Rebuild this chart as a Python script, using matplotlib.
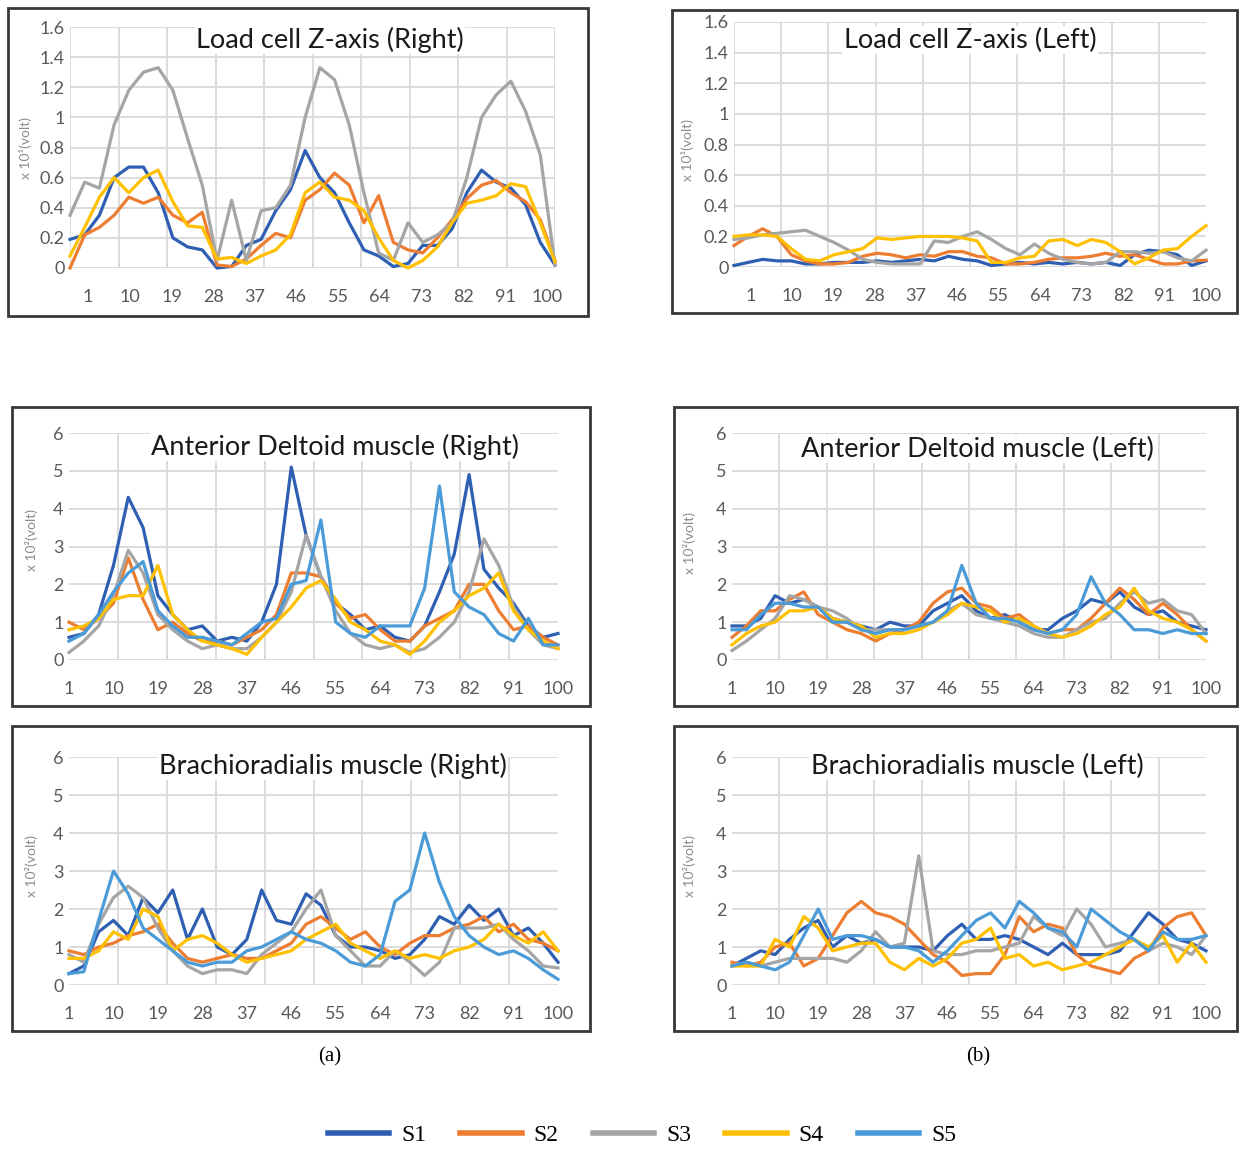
import matplotlib
matplotlib.use('Agg')
import matplotlib.pyplot as plt
import numpy as np
from matplotlib.patches import Rectangle
from matplotlib.lines import Line2D

# sample positions (every 3rd of the 100 normalised points)
x = list(range(1, 101, 3))

# Load cell Z-axis (Right)
lcr_s1 = [0.19, 0.22, 0.35, 0.6, 0.67, 0.67, 0.5, 0.2, 0.14, 0.12, 0.0, 0.01, 0.15, 0.19, 0.38, 0.52, 0.78,
          0.6, 0.5, 0.3, 0.12, 0.08, 0.01, 0.03, 0.15, 0.15, 0.26, 0.5, 0.65, 0.57, 0.53, 0.42, 0.17, 0.02]
lcr_s2 = [0.0, 0.22, 0.27, 0.35, 0.47, 0.43, 0.47, 0.35, 0.3, 0.37, 0.02, 0.01, 0.06, 0.15, 0.23, 0.2, 0.45,
          0.52, 0.63, 0.55, 0.3, 0.48, 0.17, 0.12, 0.1, 0.2, 0.32, 0.46, 0.55, 0.58, 0.5, 0.44, 0.32, 0.05]
lcr_s3 = [0.35, 0.57, 0.53, 0.95, 1.18, 1.3, 1.33, 1.18, 0.86, 0.55, 0.05, 0.45, 0.05, 0.38, 0.4, 0.55, 1.0,
          1.33, 1.25, 0.95, 0.5, 0.1, 0.05, 0.3, 0.17, 0.22, 0.3, 0.6, 1.0, 1.15, 1.24, 1.04, 0.75, 0.02]
lcr_s4 = [0.08, 0.27, 0.47, 0.6, 0.5, 0.6, 0.65, 0.44, 0.28, 0.27, 0.06, 0.07, 0.03, 0.08, 0.12, 0.22, 0.5,
          0.57, 0.47, 0.45, 0.38, 0.2, 0.05, 0.0, 0.05, 0.14, 0.3, 0.43, 0.45, 0.48, 0.56, 0.54, 0.3, 0.04]

# Load cell Z-axis (Left)
lcl_s1 = [0.01, 0.03, 0.05, 0.04, 0.04, 0.02, 0.02, 0.03, 0.03, 0.03, 0.04, 0.03, 0.04, 0.05, 0.04, 0.07, 0.05,
          0.04, 0.01, 0.02, 0.03, 0.02, 0.03, 0.02, 0.03, 0.02, 0.03, 0.01, 0.08, 0.11, 0.1, 0.08, 0.01, 0.04]
lcl_s2 = [0.14, 0.2, 0.25, 0.2, 0.08, 0.04, 0.02, 0.02, 0.03, 0.07, 0.09, 0.08, 0.06, 0.08, 0.07, 0.1, 0.1,
          0.07, 0.06, 0.02, 0.02, 0.03, 0.05, 0.06, 0.06, 0.07, 0.09, 0.07, 0.08, 0.05, 0.02, 0.02, 0.04, 0.045]
lcl_s3 = [0.18, 0.19, 0.21, 0.22, 0.23, 0.24, 0.2, 0.16, 0.11, 0.05, 0.03, 0.02, 0.02, 0.02, 0.17, 0.16, 0.2,
          0.23, 0.18, 0.12, 0.08, 0.15, 0.09, 0.05, 0.03, 0.02, 0.03, 0.1, 0.1, 0.09, 0.1, 0.06, 0.04, 0.11]
lcl_s4 = [0.2, 0.21, 0.21, 0.2, 0.12, 0.05, 0.04, 0.08, 0.1, 0.12, 0.19, 0.18, 0.19, 0.2, 0.2, 0.2, 0.19,
          0.17, 0.03, 0.03, 0.06, 0.07, 0.17, 0.18, 0.14, 0.18, 0.16, 0.1, 0.02, 0.06, 0.11, 0.12, 0.2, 0.27]

# Anterior Deltoid muscle (Right)
adr_s1 = [0.6, 0.7, 1.2, 2.5, 4.3, 3.5, 1.7, 1.2, 0.8, 0.9, 0.5, 0.6, 0.5, 1.0, 2.0, 5.1, 3.3,
          2.2, 1.5, 1.2, 0.8, 0.9, 0.6, 0.5, 0.9, 1.8, 2.8, 4.9, 2.4, 1.9, 1.5, 0.9, 0.6, 0.7]
adr_s2 = [1.0, 0.8, 1.1, 1.5, 2.7, 1.6, 0.8, 1.0, 0.7, 0.5, 0.5, 0.4, 0.6, 0.8, 1.2, 2.3, 2.3,
          2.2, 1.5, 1.1, 1.2, 0.8, 0.5, 0.5, 0.9, 1.1, 1.3, 2.0, 2.0, 1.3, 0.8, 0.9, 0.6, 0.4]
adr_s3 = [0.2, 0.5, 0.9, 1.7, 2.9, 2.3, 1.2, 0.8, 0.5, 0.3, 0.4, 0.3, 0.3, 0.6, 1.0, 1.8, 3.3,
          2.2, 1.3, 0.7, 0.4, 0.3, 0.4, 0.2, 0.3, 0.6, 1.0, 1.8, 3.2, 2.5, 1.4, 0.8, 0.4, 0.3]
adr_s4 = [0.8, 0.9, 1.1, 1.6, 1.7, 1.7, 2.5, 1.2, 0.8, 0.5, 0.4, 0.3, 0.15, 0.6, 1.0, 1.4, 1.9,
          2.1, 1.6, 1.0, 0.8, 0.5, 0.4, 0.15, 0.5, 1.0, 1.3, 1.7, 1.9, 2.3, 1.3, 0.8, 0.5, 0.3]
adr_s5 = [0.5, 0.7, 1.2, 1.8, 2.3, 2.6, 1.3, 0.9, 0.6, 0.6, 0.5, 0.4, 0.7, 1.0, 1.1, 2.0, 2.1,
          3.7, 1.0, 0.7, 0.6, 0.9, 0.9, 0.9, 1.9, 4.6, 1.8, 1.4, 1.2, 0.7, 0.5, 1.1, 0.4, 0.4]

# Anterior Deltoid muscle (Left)
adl_s1 = [0.9, 0.9, 1.1, 1.7, 1.5, 1.6, 1.4, 1.1, 1.0, 0.9, 0.8, 1.0, 0.9, 0.9, 1.3, 1.5, 1.7,
          1.3, 1.1, 1.2, 1.0, 0.8, 0.8, 1.1, 1.3, 1.6, 1.5, 1.8, 1.4, 1.2, 1.3, 1.0, 0.9, 0.8]
adl_s2 = [0.6, 0.9, 1.3, 1.3, 1.6, 1.8, 1.2, 1.0, 0.8, 0.7, 0.5, 0.7, 0.8, 1.0, 1.5, 1.8, 1.9,
          1.5, 1.4, 1.1, 1.2, 0.9, 0.7, 0.8, 0.8, 1.1, 1.5, 1.9, 1.6, 1.2, 1.5, 1.2, 0.8, 0.5]
adl_s3 = [0.25, 0.5, 0.8, 1.1, 1.7, 1.6, 1.4, 1.3, 1.1, 0.8, 0.8, 0.8, 0.8, 0.9, 1.0, 1.3, 1.5,
          1.2, 1.1, 1.0, 0.9, 0.7, 0.6, 0.6, 0.8, 1.0, 1.1, 1.5, 1.8, 1.5, 1.6, 1.3, 1.2, 0.7]
adl_s4 = [0.4, 0.7, 0.9, 1.0, 1.3, 1.3, 1.4, 1.1, 1.0, 0.9, 0.6, 0.7, 0.7, 0.8, 1.0, 1.2, 1.5,
          1.4, 1.3, 1.0, 1.1, 0.9, 0.7, 0.6, 0.7, 0.9, 1.2, 1.4, 1.9, 1.3, 1.1, 1.0, 0.8, 0.5]
adl_s5 = [0.8, 0.8, 1.2, 1.5, 1.5, 1.4, 1.4, 1.0, 1.0, 0.8, 0.7, 0.8, 0.8, 0.9, 1.0, 1.3, 2.5,
          1.5, 1.1, 1.1, 1.0, 0.8, 0.7, 0.8, 1.2, 2.2, 1.5, 1.2, 0.8, 0.8, 0.7, 0.8, 0.7, 0.7]

# Brachioradialis muscle (Right)
brr_s1 = [0.3, 0.5, 1.4, 1.7, 1.3, 2.3, 1.9, 2.5, 1.2, 2.0, 1.0, 0.8, 1.2, 2.5, 1.7, 1.6, 2.4,
          2.1, 1.3, 1.0, 1.0, 0.9, 0.7, 0.8, 1.2, 1.8, 1.6, 2.1, 1.7, 2.0, 1.3, 1.5, 1.1, 0.6]
brr_s2 = [0.9, 0.8, 1.0, 1.1, 1.3, 1.4, 1.6, 1.1, 0.7, 0.6, 0.7, 0.8, 0.7, 0.7, 0.9, 1.1, 1.6,
          1.8, 1.5, 1.2, 1.4, 1.0, 0.8, 1.1, 1.3, 1.3, 1.5, 1.6, 1.8, 1.4, 1.6, 1.2, 1.1, 0.9]
brr_s3 = [0.8, 0.6, 1.6, 2.3, 2.6, 2.3, 1.5, 0.9, 0.5, 0.3, 0.4, 0.4, 0.3, 0.8, 1.1, 1.4, 2.0,
          2.5, 1.3, 0.9, 0.5, 0.5, 0.9, 0.6, 0.25, 0.6, 1.5, 1.5, 1.5, 1.6, 1.2, 0.9, 0.5, 0.45]
brr_s4 = [0.7, 0.7, 0.9, 1.4, 1.2, 2.0, 1.8, 0.9, 1.2, 1.3, 1.1, 0.8, 0.6, 0.7, 0.8, 0.9, 1.2,
          1.4, 1.6, 1.1, 0.9, 0.7, 0.9, 0.7, 0.8, 0.7, 0.9, 1.0, 1.2, 1.6, 1.3, 1.1, 1.4, 0.9]
brr_s5 = [0.3, 0.35, 1.7, 3.0, 2.4, 1.5, 1.2, 0.9, 0.6, 0.5, 0.6, 0.6, 0.9, 1.0, 1.2, 1.4, 1.2,
          1.1, 0.9, 0.6, 0.5, 0.8, 2.2, 2.5, 4.0, 2.7, 1.8, 1.3, 1.0, 0.8, 0.9, 0.7, 0.4, 0.15]

# Brachioradialis muscle (Left)
brl_s1 = [0.5, 0.7, 0.9, 0.8, 1.2, 1.5, 1.7, 1.0, 1.3, 1.1, 1.2, 1.0, 1.0, 1.0, 0.9, 1.3, 1.6,
          1.2, 1.2, 1.3, 1.2, 1.0, 0.8, 1.1, 0.8, 0.8, 0.8, 0.9, 1.4, 1.9, 1.6, 1.2, 1.1, 0.9]
brl_s2 = [0.6, 0.5, 0.6, 1.0, 1.1, 0.5, 0.7, 1.3, 1.9, 2.2, 1.9, 1.8, 1.6, 1.2, 0.8, 0.6, 0.25,
          0.3, 0.3, 0.8, 1.8, 1.4, 1.6, 1.5, 0.8, 0.5, 0.4, 0.3, 0.7, 0.9, 1.5, 1.8, 1.9, 1.3]
brl_s3 = [0.5, 0.6, 0.5, 0.6, 0.7, 0.7, 0.7, 0.7, 0.6, 0.9, 1.4, 1.0, 1.1, 3.4, 0.9, 0.8, 0.8,
          0.9, 0.9, 1.0, 1.1, 1.8, 1.5, 1.3, 2.0, 1.6, 1.0, 1.1, 1.2, 0.9, 1.1, 1.0, 0.8, 1.3]
brl_s4 = [0.5, 0.5, 0.5, 1.2, 1.0, 1.8, 1.5, 0.9, 1.0, 1.1, 1.1, 0.6, 0.4, 0.7, 0.5, 0.7, 1.1,
          1.2, 1.5, 0.7, 0.8, 0.5, 0.6, 0.4, 0.5, 0.6, 0.8, 1.0, 1.2, 1.0, 1.3, 0.6, 1.1, 0.6]
brl_s5 = [0.5, 0.6, 0.5, 0.4, 0.6, 1.3, 2.0, 1.2, 1.3, 1.3, 1.2, 1.0, 1.0, 0.9, 0.6, 0.9, 1.3,
          1.7, 1.9, 1.5, 2.2, 1.9, 1.5, 1.4, 1.0, 2.0, 1.7, 1.4, 1.2, 0.9, 1.4, 1.2, 1.2, 1.3]

tick_labels = ['1', '10', '19', '28', '37', '46', '55', '64', '73', '82', '91', '100']
series_names = ['S1', 'S2', 'S3', 'S4', 'S5']
colors = ['#2F5FB3', '#ED7D31', '#A5A5A5', '#FFC000', '#4A9BD8']

W, H = 1239, 1152
fig = plt.figure(figsize=(W / 100, H / 100), dpi=100)
SANS = ['Lato', 'DejaVu Sans']


def frac(l, t, r, b):
    return [l / W, 1 - b / H, (r - l) / W, (b - t) / H]


def panel(box, area, ymax, ystep, ylab, ylab_xy, title, title_xy, data, label_pos=None):
    # outer frame of the excel chart
    fig.add_artist(Rectangle((box[0] / W, 1 - box[3] / H), (box[2] - box[0]) / W, (box[3] - box[1]) / H,
                             transform=fig.transFigure, fill=False, ec='#383838', lw=2.0))
    ax = fig.add_axes(frac(*area))
    for sp in ax.spines.values():
        sp.set_visible(False)
    ax.set_xlim(1, 100)
    ax.set_ylim(0, ymax)
    if label_pos is None:
        label_pos = [1, 10, 19, 28, 37, 46, 55, 64, 73, 82, 91, 100]
    ax.set_xticks(label_pos)
    ax.set_xticklabels(tick_labels)
    ax.set_xticks(np.linspace(1, 100, 11), minor=True)
    ax.set_yticks(np.arange(0, ymax + ystep / 2, ystep))
    if ymax < 2:
        ax.set_yticklabels(['0', '0.2', '0.4', '0.6', '0.8', '1', '1.2', '1.4', '1.6'])
    ax.xaxis.grid(True, which='minor', color='#D9D9D9', lw=1.3)
    ax.yaxis.grid(True, which='major', color='#D9D9D9', lw=1.3)
    ax.tick_params(which='both', length=0, labelsize=13, colors='#595959')
    ax.tick_params(axis='x', pad=15)
    ax.tick_params(axis='y', pad=4)
    for lab in ax.get_xticklabels() + ax.get_yticklabels():
        lab.set_family(SANS)
    for s, c in zip(data, colors):
        ax.plot(x, s, color=c, lw=2.3, solid_joinstyle='round', clip_on=False, zorder=3)
    fig.text(title_xy[0] / W, 1 - title_xy[1] / H, title, ha='center', va='center', fontsize=19.5,
             family=SANS, color='#1a1a1a', bbox=dict(fc='white', ec='none', pad=1))
    fig.text(ylab_xy[0] / W, 1 - ylab_xy[1] / H, ylab, rotation=90,
             ha='center', va='center', fontsize=10, family=SANS, color='#8c8c8c')
    return ax


panel((8, 8, 588, 316), (70, 27, 555, 268), 1.6, 0.2, 'x 10\u00b9(volt)', (25, 148),
      'Load cell Z-axis (Right)', (330, 40), [lcr_s1, lcr_s2, lcr_s3, lcr_s4],
      label_pos=list(np.linspace(4.7, 98.3, 12)))
panel((672, 10, 1237, 313), (734, 22, 1206, 267), 1.6, 0.2, 'x 10\u00b9(volt)', (688, 150),
      'Load cell Z-axis (Left)', (970, 40), [lcl_s1, lcl_s2, lcl_s3, lcl_s4],
      label_pos=list(np.linspace(4.4, 100, 12)))
panel((12, 407, 590, 706), (69, 433, 558, 660), 6, 1, 'x 10\u00b2(volt)', (31, 540),
      'Anterior Deltoid muscle (Right)', (335, 447), [adr_s1, adr_s2, adr_s3, adr_s4, adr_s5])
panel((674, 407, 1237, 706), (732, 433, 1206, 660), 6, 1, 'x 10\u00b2(volt)', (690, 543),
      'Anterior Deltoid muscle (Left)', (977, 449), [adl_s1, adl_s2, adl_s3, adl_s4, adl_s5])
panel((12, 726, 590, 1031), (69, 757, 558, 985), 6, 1, 'x 10\u00b2(volt)', (31, 866),
      'Brachioradialis muscle (Right)', (333, 766), [brr_s1, brr_s2, brr_s3, brr_s4, brr_s5])
panel((674, 726, 1237, 1031), (732, 757, 1206, 985), 6, 1, 'x 10\u00b2(volt)', (690, 866),
      'Brachioradialis muscle (Left)', (977, 766), [brl_s1, brl_s2, brl_s3, brl_s4, brl_s5])

fig.text(330 / W, 1 - 1057 / H, '(a)', ha='center', va='center', fontsize=15, family='Liberation Serif')
fig.text(978 / W, 1 - 1057 / H, '(b)', ha='center', va='center', fontsize=15, family='Liberation Serif')

handles = [Line2D([], [], color=c, lw=4) for c in colors]
fig.legend(handles, series_names, loc='center', bbox_to_anchor=(642 / W, 1 - 1135 / H), ncol=5,
           frameon=False, prop={'family': 'Liberation Serif', 'size': 17}, handlelength=2.6,
           handletextpad=0.5, columnspacing=1.45)

fig.savefig('out.png', dpi=100)
